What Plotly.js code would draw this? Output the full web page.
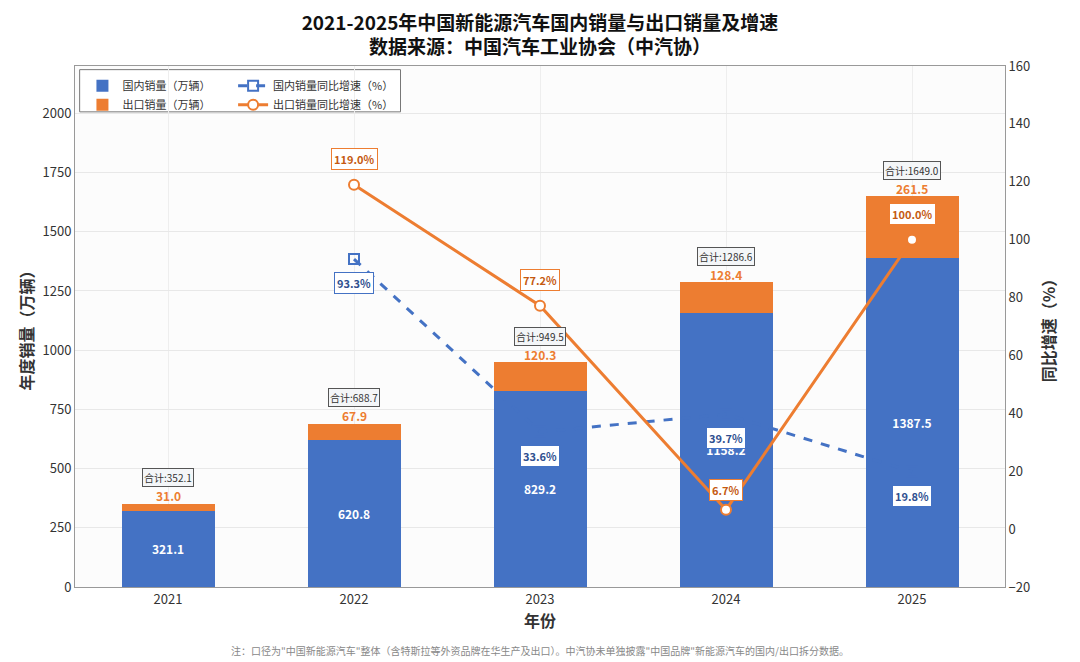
<!DOCTYPE html>
<html><head><meta charset="utf-8">
<script src="https://cdn.plot.ly/plotly-3.0.1.min.js"></script>
<style>body{margin:0;background:#fff}#c{width:1080px;height:662px}</style>
</head><body><div id="c"></div>
<script>
const years = ["2021", "2022", "2023", "2024", "2025"];
const domestic = [321.1, 620.8, 829.2, 1158.2, 1387.5];
const exportSales = [31.0, 67.9, 120.3, 128.4, 261.5];
const domesticGrowth = [null, 93.3, 33.6, 39.7, 19.8];
const exportGrowth = [null, 119.0, 77.2, 6.7, 100.0];

const font = "Noto Sans CJK SC, Noto Sans, sans-serif";
const blue = "#4472C4", orange = "#ED7D31";

const traces = [
  { type: "bar", name: "国内销量（万辆）", x: years, y: domestic, marker: { color: blue }, width: 0.5,
    text: domestic.map(v => v.toFixed(1)), textposition: "inside", insidetextanchor: "middle",
    textfont: { color: "#fff", size: 12, family: font, weight: "bold" }, hoverinfo: "y" },
  { type: "bar", name: "出口销量（万辆）", x: years, y: exportSales, marker: { color: orange }, width: 0.5,
    hoverinfo: "y" },
  { type: "scatter", mode: "lines+markers", name: "国内销量同比增速（%）", x: years, y: domesticGrowth, yaxis: "y2",
    legend: "legend2",
    line: { color: blue, width: 3, dash: "dash" },
    marker: { symbol: "square-open", size: 10, color: blue, line: { width: 2, color: blue } } },
  { type: "scatter", mode: "lines+markers", name: "出口销量同比增速（%）", x: years, y: exportGrowth, yaxis: "y2",
    legend: "legend2",
    line: { color: orange, width: 3 },
    marker: { symbol: "circle", size: 10, color: "#fff", line: { width: 2, color: orange } } },
];

const annotations = [];
years.forEach((yr, i) => {
  const total = domestic[i] + exportSales[i];
  annotations.push({ x: yr, y: total, yref: "y", text: "合计:" + total.toFixed(1), showarrow: false, yshift: 26,
    font: { size: 10, color: "#333", family: font }, bgcolor: "#f4f6f8", bordercolor: "#555", borderwidth: 1, borderpad: 1 });
  annotations.push({ x: yr, y: total, yref: "y", text: "<b>" + exportSales[i].toFixed(1) + "</b>", showarrow: false, yshift: 8,
    font: { size: 12, color: orange, family: font } });
  if (domesticGrowth[i] !== null) {
    annotations.push({ x: yr, y: domesticGrowth[i], yref: "y2", text: "<b>" + domesticGrowth[i].toFixed(1) + "%</b>", showarrow: false, yshift: -24,
      font: { size: 11, color: "#2f4f8f", family: font }, bgcolor: "#fff", bordercolor: blue, borderwidth: 1, borderpad: 2 });
    annotations.push({ x: yr, y: exportGrowth[i], yref: "y2", text: "<b>" + exportGrowth[i].toFixed(1) + "%</b>", showarrow: false,
      yshift: i === 3 ? 20 : 26,
      font: { size: 11, color: "#c55a11", family: font }, bgcolor: "#fff", bordercolor: orange, borderwidth: 1, borderpad: 2 });
  }
});
annotations.push({ xref: "paper", yref: "paper", x: 0.5, y: -0.14, showarrow: false,
  text: "注：口径为\"中国新能源汽车\"整体（含特斯拉等外资品牌在华生产及出口）。中汽协未单独披露\"中国品牌\"新能源汽车的国内/出口拆分数据。",
  font: { size: 10, color: "#888", family: font } });

const layout = {
  width: 1080, height: 662,
  margin: { l: 75, r: 75, t: 66, b: 75 },
  barmode: "stack",
  paper_bgcolor: "#fff", plot_bgcolor: "#fcfcfc",
  font: { family: font, color: "#333" },
  title: { text: "<b>2021-2025年中国新能源汽车国内销量与出口销量及增速<br>数据来源：中国汽车工业协会（中汽协）</b>",
    x: 0.5, y: 0.955, yanchor: "middle", font: { size: 19, color: "#111", family: font } },
  xaxis: { title: { text: "<b>年份</b>", font: { size: 16 }, standoff: 6 }, tickfont: { size: 13 },
    showgrid: true, gridcolor: "#eee", linecolor: "#999", showline: true, mirror: true },
  yaxis: { title: { text: "<b>年度销量（万辆）</b>", font: { size: 16 } }, range: [0, 2200], dtick: 250,
    tickfont: { size: 13 }, gridcolor: "#e8e8e8", zeroline: false, linecolor: "#999", showline: true },
  yaxis2: { title: { text: "<b>同比增速（%）</b>", font: { size: 16 } }, overlaying: "y", side: "right",
    range: [-20, 160], dtick: 20, tickfont: { size: 13 }, showgrid: false, zeroline: false, linecolor: "#999", showline: true },
  legend: { x: 0.008, y: 0.99, xanchor: "left", yanchor: "top", bgcolor: "rgba(0,0,0,0)",
    font: { size: 11 }, traceorder: "normal", tracegroupgap: 0 },
  legend2: { x: 0.17, y: 0.99, xanchor: "left", yanchor: "top", bgcolor: "rgba(0,0,0,0)",
    font: { size: 11 }, traceorder: "normal", tracegroupgap: 0 },
  shapes: [{ type: "rect", xref: "paper", yref: "paper", x0: 0.005, x1: 0.35, y0: 0.912, y1: 0.993,
    fillcolor: "#fff", line: { color: "#777", width: 1 }, layer: "below" }],
  annotations,
  showlegend: true,
};

Plotly.newPlot("c", traces, layout, { displayModeBar: false });
</script></body></html>
